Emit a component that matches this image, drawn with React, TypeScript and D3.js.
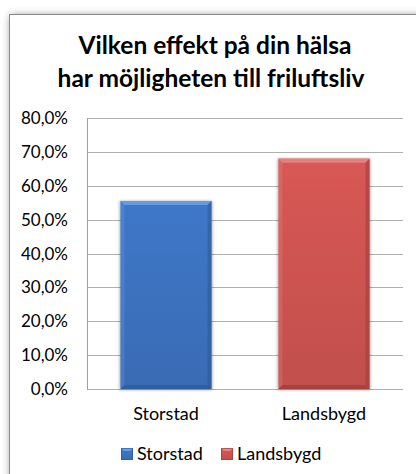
import React from "react";
import * as d3 from "d3";

const categories = ["Storstad", "Landsbygd"];
const values = [0.555, 0.68];
const seriesColors = ["#3b70bb", "#c9524f"];
const seriesLight = ["#68a0e6", "#e88583"];
const seriesDark = ["#2b5a98", "#9e3c3a"];
const tickValues = [0, 0.1, 0.2, 0.3, 0.4, 0.5, 0.6, 0.7, 0.8];
const titleLines = ["Vilken effekt på din hälsa", "har möjligheten till friluftsliv"];

const W = 416;
const H = 474;
const FONT = "Lato, 'Open Sans', sans-serif";

export default function App() {
  const plotLeft = 87;
  const plotRight = 403;
  const plotTop = 118;
  const plotBottom = 389;

  const x = d3
    .scaleBand<string>()
    .domain(categories)
    .range([plotLeft, plotRight])
    .paddingInner(0.424)
    .paddingOuter(0.212);
  const y = d3.scaleLinear().domain([0, 0.8]).range([plotBottom, plotTop]);
  const fmt = (v: number) => d3.format(".1f")(v * 100).replace(".", ",") + "%";

  const bev = 4;

  return (
    <svg
      width={W}
      height={H}
      style={{ position: "absolute", left: 0, top: 0, display: "block" }}
      fontFamily={FONT}
    >
      <defs>
        <filter id="frameShadow" x="-10%" y="-10%" width="130%" height="130%">
          <feGaussianBlur stdDeviation="4.5" />
        </filter>
        <filter id="barShadow" x="-20%" y="-20%" width="140%" height="140%">
          <feGaussianBlur stdDeviation="1.5" />
        </filter>
        {categories.map((c, i) => (
          <linearGradient key={c} id={`g${i}`} x1="0" y1="0" x2="0" y2="1">
            <stop offset="0%" stopColor={d3.color(seriesColors[i])!.brighter(0.2).formatHex()} />
            <stop offset="100%" stopColor={d3.color(seriesColors[i])!.darker(0.12).formatHex()} />
          </linearGradient>
        ))}
      </defs>
      <rect x={0} y={0} width={W} height={H} fill="#ffffff" />
      <rect x={11} y={16} width={W + 40} height={H + 40} fill="#5a5a5a" opacity={0.8} filter="url(#frameShadow)" />
      <rect x={9.5} y={14.5} width={W + 40} height={H + 40} fill="#ffffff" stroke="#8a8a8a" strokeWidth={1} />

      {titleLines.map((t, i) => (
        <text
          key={t}
          x={i === 0 ? 215 : 211}
          y={i === 0 ? 53.5 : 86.5}
          textAnchor="middle"
          fontWeight="bold"
          fontSize={24.5}
          fill="#000000"
        >
          {t}
        </text>
      ))}

      {tickValues.map((t) => (
        <g key={t}>
          <line x1={plotLeft} x2={plotRight} y1={Math.round(y(t)) + 0.5} y2={Math.round(y(t)) + 0.5} stroke="#b0b0b0" strokeWidth={1} />
          <text x={68} y={y(t)} dy="0.36em" textAnchor="end" fontSize={17} fill="#000000">
            {fmt(t)}
          </text>
        </g>
      ))}
      <line x1={plotLeft + 0.5} x2={plotLeft + 0.5} y1={plotTop} y2={plotBottom + 1} stroke="#a0a0a0" strokeWidth={1} />

      {categories.map((c, i) => {
        const x0 = x(c)!;
        const w = x.bandwidth();
        const y0 = y(values[i]);
        const h = plotBottom - y0;
        return (
          <g key={c}>
            <rect x={x0 - 1} y={y0} width={w + 2} height={h + 1} fill="#000" opacity={0.3} filter="url(#barShadow)" />
            <rect x={x0} y={y0} width={w} height={h} fill={`url(#g${i})`} />
            <polygon
              points={`${x0},${y0} ${x0 + w},${y0} ${x0 + w - bev},${y0 + bev} ${x0 + bev},${y0 + bev}`}
              fill={seriesLight[i]}
              opacity={0.9}
            />
            <polygon
              points={`${x0},${y0} ${x0 + bev},${y0 + bev} ${x0 + bev},${y0 + h - bev} ${x0},${y0 + h}`}
              fill={seriesLight[i]}
              opacity={0.3}
            />
            <polygon
              points={`${x0 + w},${y0} ${x0 + w - bev},${y0 + bev} ${x0 + w - bev},${y0 + h - bev} ${x0 + w},${y0 + h}`}
              fill={seriesDark[i]}
              opacity={0.55}
            />
            <polygon
              points={`${x0},${y0 + h} ${x0 + bev},${y0 + h - bev} ${x0 + w - bev},${y0 + h - bev} ${x0 + w},${y0 + h}`}
              fill={seriesDark[i]}
              opacity={0.7}
            />
            <text x={x0 + w / 2} y={414} dy="0.36em" textAnchor="middle" fontSize={18} fill="#000000">
              {c}
            </text>
          </g>
        );
      })}

      {categories.map((c, i) => {
        const lx = [121, 221][i];
        return (
          <g key={`leg-${c}`}>
            <rect x={lx} y={448} width={12} height={12} fill={`url(#g${i})`} />
            <polygon points={`${lx},448 ${lx + 12},448 ${lx + 9},451 ${lx + 3},451`} fill={seriesLight[i]} />
            <rect x={lx + 0.5} y={448.5} width={11} height={11} fill="none" stroke={seriesDark[i]} strokeWidth={1} opacity={0.6} />
            <text x={lx + 16} y={454} dy="0.36em" fontSize={18} fill="#000000">
              {c}
            </text>
          </g>
        );
      })}
    </svg>
  );
}
